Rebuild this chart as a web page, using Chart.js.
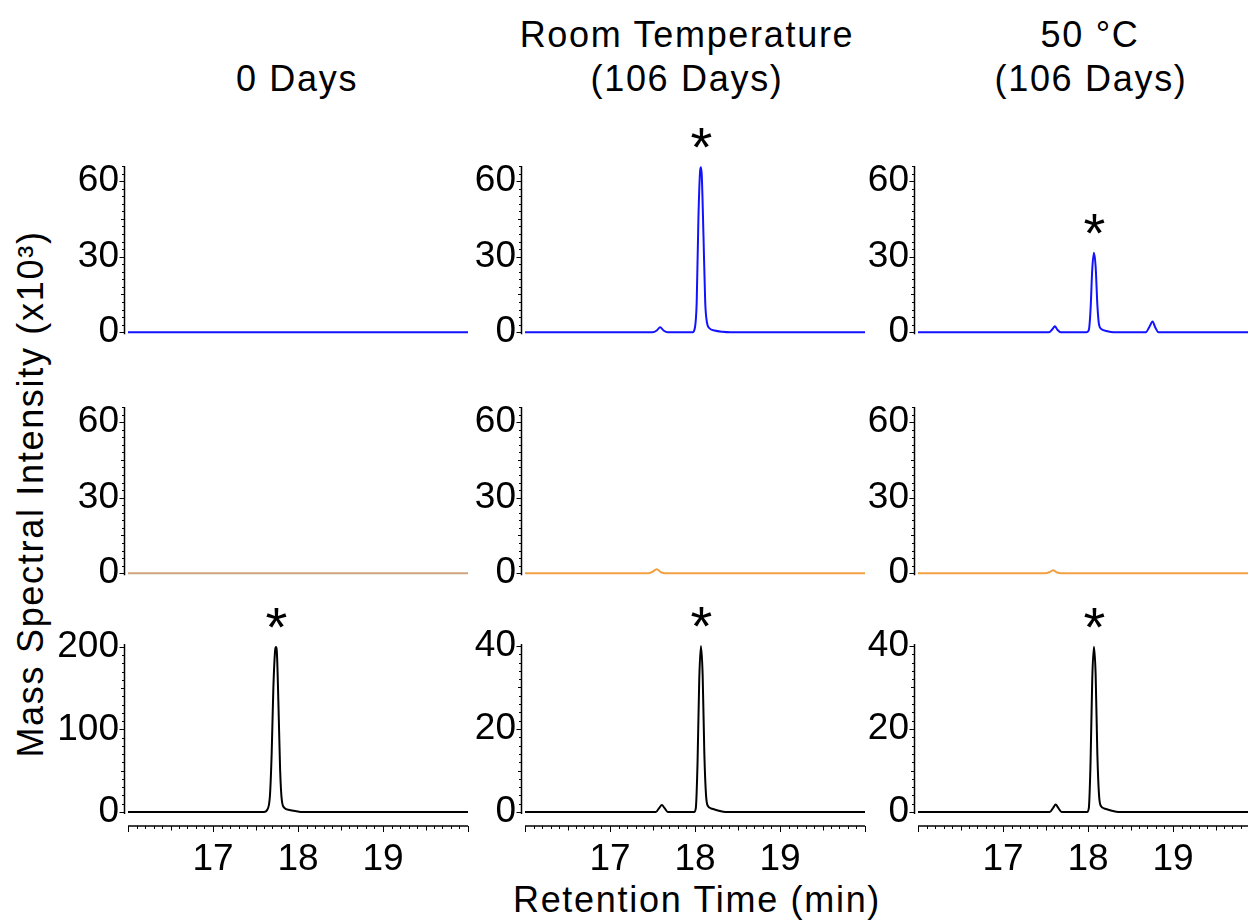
<!DOCTYPE html>
<html><head><meta charset="utf-8">
<script src="https://cdn.jsdelivr.net/npm/chart.js@4.4.1/dist/chart.umd.min.js"></script>
<style>
html,body{margin:0;padding:0;width:1248px;height:924px;overflow:hidden;background:#fff;position:relative;}
.t{position:absolute;font-family:"Liberation Sans",Arial,sans-serif;font-size:36px;letter-spacing:1.7px;color:#000;white-space:nowrap;line-height:36px;transform:translateX(-50%);}
.yt{position:absolute;font-family:"Liberation Sans",Arial,sans-serif;font-size:36px;letter-spacing:1.7px;color:#000;white-space:nowrap;line-height:36px;transform:translate(-50%,-50%) rotate(-90deg);}
canvas{position:absolute;}
</style></head><body>
<div class="t" style="left:297px;top:61px">0 Days</div>
<div class="t" style="left:687px;top:17px">Room Temperature</div>
<div class="t" style="left:687px;top:61px">(106 Days)</div>
<div class="t" style="left:1090px;top:17px">50 °C</div>
<div class="t" style="left:1091px;top:61px">(106 Days)</div>
<div class="yt" style="left:31px;top:494px">Mass Spectral Intensity (x10³)</div>
<div class="t" style="left:697px;top:882px">Retention Time (min)</div>
<script>
// ---- tick labels ----
const timeTicks = [17, 18, 19];
const yTicksIntensity = [0, 30, 60];
const yTicks0DaysBottom = [0, 100, 200];
const yTicksBottom = [0, 20, 40];

// ---- 0 Days ----
const t_0d_top = [16, 17, 18, 19, 20];
const v_0d_top = [0, 0, 0, 0, 0];
const t_0d_mid = [16, 17, 18, 19, 20];
const v_0d_mid = [0, 0, 0, 0, 0];
const t_0d_bot = [16, 17.60, 17.64, 17.67, 17.69, 17.71, 17.73, 17.74, 17.75, 17.77, 17.79, 17.81, 17.84, 17.90, 17.98, 18.05, 20];
const v_0d_bot = [0, 0, 3, 20, 70, 150, 195, 200, 196, 130, 50, 14, 5, 2.5, 1.0, 0, 0];

// ---- Room Temperature (106 Days) ----
const t_rt_top = [16, 17.50, 17.55, 17.59, 17.63, 17.68, 17.97, 18.00, 18.02, 18.04, 18.06, 18.07, 18.08, 18.10, 18.12, 18.14, 18.17, 18.23, 18.32, 18.42, 20];
const v_rt_top = [0, 0, 0.7, 2.0, 0.7, 0, 0, 2, 12, 45, 64, 65.5, 62, 38, 12, 4, 1.6, 0.7, 0.2, 0, 0];
const t_rt_mid = [16, 17.45, 17.50, 17.55, 17.60, 17.65, 20];
const v_rt_mid = [0, 0, 0.6, 1.6, 0.4, 0, 0];
const t_rt_bot = [16, 17.54, 17.58, 17.61, 17.64, 17.68, 17.99, 18.01, 18.03, 18.05, 18.07, 18.09, 18.11, 18.13, 18.15, 18.20, 18.28, 18.36, 20];
const v_rt_bot = [0, 0, 1.0, 1.7, 1.0, 0, 0, 1, 12, 32, 40, 33, 14, 4, 1.5, 0.8, 0.3, 0, 0];

// ---- 50 °C (106 Days) ----
const t_50_top = [16, 17.54, 17.58, 17.61, 17.64, 17.68, 17.98, 18.01, 18.03, 18.05, 18.07, 18.09, 18.11, 18.13, 18.16, 18.22, 18.30, 18.68, 18.72, 18.76, 18.79, 18.83, 20];
const v_50_top = [0, 0, 1.2, 2.4, 1.0, 0, 0, 1, 9, 25, 31.6, 26, 11, 3, 1.2, 0.5, 0, 0, 2.0, 4.3, 2.0, 0, 0];
const t_50_mid = [16, 17.50, 17.55, 17.59, 17.63, 17.68, 20];
const v_50_mid = [0, 0, 0.5, 1.2, 0.4, 0, 0];
const t_50_bot = [16, 17.55, 17.59, 17.62, 17.65, 17.69, 17.99, 18.01, 18.03, 18.05, 18.07, 18.09, 18.11, 18.13, 18.15, 18.20, 18.28, 18.36, 20];
const v_50_bot = [0, 0, 1.0, 1.8, 1.0, 0, 0, 1, 12, 32, 39.8, 33, 14, 4, 1.5, 0.8, 0.3, 0, 0];

// ---- styling / layout ----
const FONT = '"Liberation Sans", Arial, sans-serif';
const TICKSIZE = 37;
const BLUE = '#1212ff', ORANGE = '#f3a043', TAN = '#cfa47e', BLACK = '#000000';
const colLeft = [128, 525, 918];
const PLOTW = 340;
const rowGeo = [{top:166, bottom:336}, {top:407, bottom:577}, {top:644, bottom:826}];
const PADTOP = 60, YW = 100, PADR = 10, XH = 80, PADBOT = 30;

const panels = [
  {row:0, col:0, t:t_0d_top, v:v_0d_top, color:BLUE,   yMin:-1, yMax:66,    yTicks:yTicksIntensity,   minor:3,  major:30,  star:false},
  {row:1, col:0, t:t_0d_mid, v:v_0d_mid, color:TAN,    yMin:-1, yMax:66,    yTicks:yTicksIntensity,   minor:3,  major:30,  star:false},
  {row:2, col:0, t:t_0d_bot, v:v_0d_bot, color:BLACK,  yMin:-17, yMax:203.6, yTicks:yTicks0DaysBottom, minor:10, major:100, star:true},
  {row:0, col:1, t:t_rt_top, v:v_rt_top, color:BLUE,   yMin:-1, yMax:66,    yTicks:yTicksIntensity,   minor:3,  major:30,  star:true},
  {row:1, col:1, t:t_rt_mid, v:v_rt_mid, color:ORANGE, yMin:-1, yMax:66,    yTicks:yTicksIntensity,   minor:3,  major:30,  star:false},
  {row:2, col:1, t:t_rt_bot, v:v_rt_bot, color:BLACK,  yMin:-3.37, yMax:40.48, yTicks:yTicksBottom,   minor:2,  major:20,  star:true},
  {row:0, col:2, t:t_50_top, v:v_50_top, color:BLUE,   yMin:-1, yMax:66,    yTicks:yTicksIntensity,   minor:3,  major:30,  star:true},
  {row:1, col:2, t:t_50_mid, v:v_50_mid, color:ORANGE, yMin:-1, yMax:66,    yTicks:yTicksIntensity,   minor:3,  major:30,  star:false},
  {row:2, col:2, t:t_50_bot, v:v_50_bot, color:BLACK,  yMin:-3.37, yMax:40.48, yTicks:yTicksBottom,   minor:2,  major:20,  star:true}
];

const axisPlugin = {
  id: 'axes',
  afterDatasetsDraw(chart, args, o) {
    const {ctx, chartArea: a, scales: {x, y}} = chart;
    ctx.save();
    ctx.strokeStyle = '#000';
    // y axis
    const yx = a.left - 3.5;
    ctx.lineWidth = 1.5;
    ctx.beginPath();
    ctx.moveTo(yx, y.getPixelForValue(y.max));
    ctx.lineTo(yx, y.getPixelForValue(0) + 2);
    ctx.stroke();
    ctx.lineWidth = 1;
    ctx.beginPath();
    const n = Math.floor(y.max / o.minor + 1e-6);
    for (let i = 0; i <= n; i++) {
      const v = i * o.minor;
      const p = Math.round(y.getPixelForValue(v)) + 0.5;
      const r = v / o.major;
      const len = Math.abs(r - Math.round(r)) < 1e-6 ? 5 : (Math.abs(r * 2 - Math.round(r * 2)) < 1e-6 ? 3.5 : 2.5);
      ctx.moveTo(yx, p); ctx.lineTo(yx - len, p);
    }
    ctx.stroke();
    // x axis
    if (o.xAxis) {
      const yy = a.bottom;
      ctx.lineWidth = 1.5;
      ctx.beginPath();
      ctx.moveTo(x.getPixelForValue(16), yy);
      ctx.lineTo(x.getPixelForValue(20), yy);
      ctx.stroke();
      ctx.lineWidth = 1;
      ctx.beginPath();
      for (let i = 0; i <= 40; i++) {
        const p = Math.round(x.getPixelForValue(16 + i / 10)) + 0.5;
        const len = i % 10 === 0 ? 6 : (i % 5 === 0 ? 4.5 : 3);
        ctx.moveTo(p, yy); ctx.lineTo(p, yy + len);
      }
      ctx.stroke();
    }
    // asterisk above main peak
    if (o.star) {
      const data = chart.data.datasets[0].data;
      let mi = 0;
      data.forEach((d, i) => { if (d.y > data[mi].y) mi = i; });
      const px = x.getPixelForValue(data[mi].x);
      const py = y.getPixelForValue(data[mi].y) - 29;
      ctx.font = '56px ' + FONT;
      ctx.fillStyle = '#000';
      ctx.textAlign = 'left';
      ctx.textBaseline = 'alphabetic';
      const m = ctx.measureText('*');
      const w = m.actualBoundingBoxRight + m.actualBoundingBoxLeft;
      const h = m.actualBoundingBoxAscent + m.actualBoundingBoxDescent;
      ctx.fillText('*', px - w / 2 + m.actualBoundingBoxLeft, py + h / 2 - m.actualBoundingBoxDescent);
    }
    ctx.restore();
  }
};

panels.forEach(p => {
  const g = rowGeo[p.row];
  const areaH = g.bottom - g.top;
  const isBottom = p.row === 2;
  const cw = YW + PLOTW + PADR;
  const ch = PADTOP + areaH + (isBottom ? XH : PADBOT);
  const cv = document.createElement('canvas');
  cv.width = cw; cv.height = ch;
  cv.style.left = (colLeft[p.col] - YW) + 'px';
  cv.style.top = (g.top - PADTOP) + 'px';
  cv.style.width = cw + 'px'; cv.style.height = ch + 'px';
  document.body.appendChild(cv);
  new Chart(cv, {
    type: 'line',
    data: {datasets: [{
      data: p.t.map((tx, i) => ({x: tx, y: p.v[i]})),
      borderColor: p.color, borderWidth: 2, pointRadius: 0,
      cubicInterpolationMode: 'monotone', fill: false
    }]},
    options: {
      responsive: false, animation: false, devicePixelRatio: 1, events: [],
      layout: {padding: {top: PADTOP, right: PADR, bottom: isBottom ? 0 : PADBOT, left: 0}},
      plugins: {legend: {display: false}, tooltip: {enabled: false},
        axes: {minor: p.minor, major: p.major, xAxis: isBottom, star: p.star}},
      scales: {
        x: {type: 'linear', min: 16, max: 20, display: isBottom,
          grid: {display: false, drawTicks: false}, border: {display: false},
          afterBuildTicks: s => { s.ticks = timeTicks.map(v => ({value: v})); },
          afterFit: s => { if (isBottom) s.height = XH; },
          ticks: {font: {family: FONT, size: TICKSIZE}, color: '#000', padding: 12, autoSkip: false, maxRotation: 0}},
        y: {type: 'linear', min: p.yMin, max: p.yMax,
          grid: {display: false, drawTicks: false}, border: {display: false},
          afterBuildTicks: s => { s.ticks = p.yTicks.map(v => ({value: v})); },
          afterFit: s => { s.width = YW; },
          ticks: {font: {family: FONT, size: TICKSIZE}, color: '#000', padding: 9, autoSkip: false}}
      }
    },
    plugins: [axisPlugin]
  });
});
</script>
</body></html>
